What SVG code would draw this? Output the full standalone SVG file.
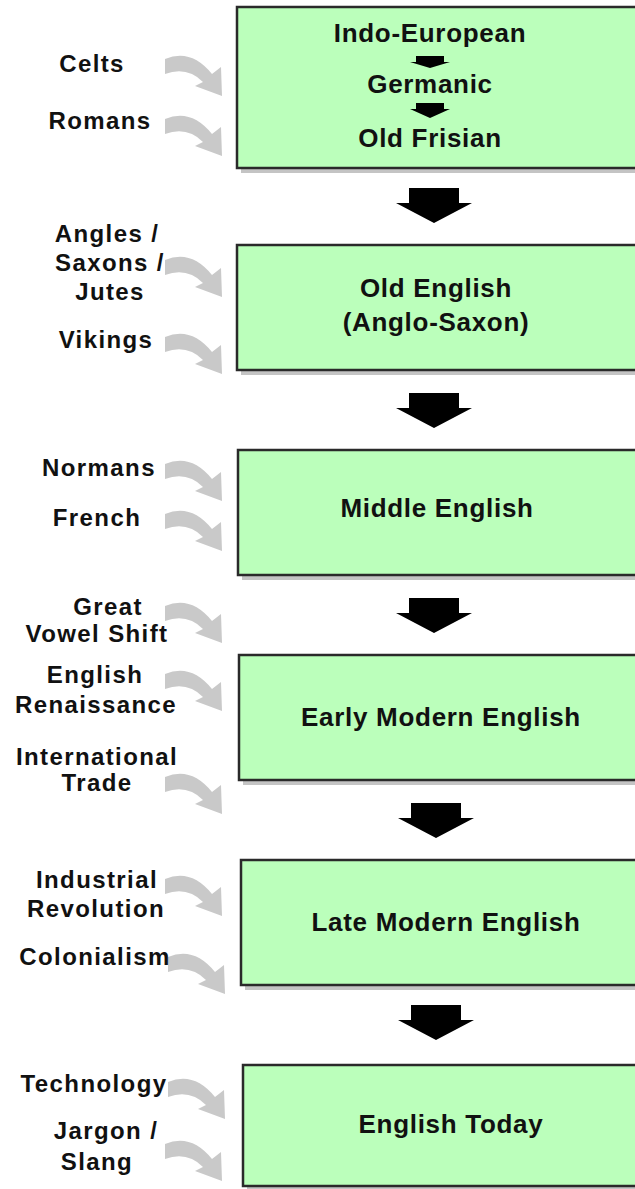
<svg xmlns="http://www.w3.org/2000/svg" xmlns:xlink="http://www.w3.org/1999/xlink" width="635" height="1189" viewBox="0 0 635 1189">
<style>
text{font-family:"Liberation Sans",Arial,sans-serif;font-weight:bold;fill:#111;}
.lbl{font-size:24px;text-anchor:middle;letter-spacing:1.4px;}
.box{fill:#bbffbb;stroke:#2a2a2a;stroke-width:2.5;}
.shadow{fill:#c4c4c4;}
.bt{font-size:26px;text-anchor:middle;letter-spacing:0.7px;}
.big{fill:#000;}
.curv{fill:#c9c9c9;}
</style>
<defs>
<path id="ca" class="curv" d="M0,4 Q26,-7 47,19 L56,12 L57,41 L30,31 L38,27 Q22,11 0,19 Z"/>
</defs>
<g id="influences">
<use xlink:href="#ca" x="165" y="55"/>
<use xlink:href="#ca" x="165" y="115"/>
<use xlink:href="#ca" x="165" y="256"/>
<use xlink:href="#ca" x="165" y="333"/>
<use xlink:href="#ca" x="165" y="460"/>
<use xlink:href="#ca" x="165" y="510"/>
<use xlink:href="#ca" x="165" y="602"/>
<use xlink:href="#ca" x="165" y="670"/>
<use xlink:href="#ca" x="165" y="773"/>
<use xlink:href="#ca" x="165" y="875"/>
<use xlink:href="#ca" x="168" y="953"/>
<use xlink:href="#ca" x="168" y="1078"/>
<use xlink:href="#ca" x="165" y="1140"/>
</g>
<g id="connectors">
<polygon class="big" points="409,188 459,188 459,203 472,203 434,223 396,203 409,203"/>
<polygon class="big" points="409,393 459,393 459,408 472,408 434,428 396,408 409,408"/>
<polygon class="big" points="409,598 459,598 459,613 472,613 434,633 396,613 409,613"/>
<polygon class="big" points="411,803 461,803 461,818 474,818 436,838 398,818 411,818"/>
<polygon class="big" points="411,1005 461,1005 461,1020 474,1020 436,1040 398,1020 411,1020"/>
</g>
<g id="n1">
<rect class="shadow" x="241" y="12" width="420" height="161"/>
<rect class="box" x="237" y="7" width="420" height="161"/>
<text class="bt" x="430" y="42">Indo-European</text>
<polygon class="big" points="416,56 444,56 444,62 450,62 430,68 410,62 416,62"/>
<text class="bt" x="430" y="93">Germanic</text>
<polygon class="big" points="416,103 444,103 444,109 450,109 430,118 410,109 416,109"/>
<text class="bt" x="430" y="147">Old Frisian</text>
</g>
<g id="n2">
<rect class="shadow" x="241" y="250" width="420" height="125"/>
<rect class="box" x="237" y="245" width="420" height="125"/>
<text class="bt" x="436" y="297">Old English</text>
<text class="bt" x="436" y="331">(Anglo-Saxon)</text>
</g>
<g id="n3">
<rect class="shadow" x="242" y="455" width="420" height="125"/>
<rect class="box" x="238" y="450" width="420" height="125"/>
<text class="bt" x="437" y="517">Middle English</text>
</g>
<g id="n4">
<rect class="shadow" x="243" y="660" width="420" height="125"/>
<rect class="box" x="239" y="655" width="420" height="125"/>
<text class="bt" x="441" y="726">Early Modern English</text>
</g>
<g id="n5">
<rect class="shadow" x="245" y="865" width="420" height="125"/>
<rect class="box" x="241" y="860" width="420" height="125"/>
<text class="bt" x="446" y="931">Late Modern English</text>
</g>
<g id="n6">
<rect class="shadow" x="247" y="1070" width="420" height="121"/>
<rect class="box" x="243" y="1065" width="420" height="121"/>
<text class="bt" x="451" y="1133">English Today</text>
</g>
<g id="labels">
<text class="lbl" x="92" y="72">Celts</text>
<text class="lbl" x="100" y="129">Romans</text>
<text class="lbl" x="107" y="242">Angles /</text>
<text class="lbl" x="110" y="271">Saxons /</text>
<text class="lbl" x="110" y="300">Jutes</text>
<text class="lbl" x="106" y="348">Vikings</text>
<text class="lbl" x="99" y="476">Normans</text>
<text class="lbl" x="97" y="526">French</text>
<text class="lbl" x="108" y="615">Great</text>
<text class="lbl" x="97" y="642">Vowel Shift</text>
<text class="lbl" x="95" y="683">English</text>
<text class="lbl" x="96" y="713">Renaissance</text>
<text class="lbl" x="97" y="765">International</text>
<text class="lbl" x="97" y="791">Trade</text>
<text class="lbl" x="97" y="888">Industrial</text>
<text class="lbl" x="96" y="917">Revolution</text>
<text class="lbl" x="95" y="965">Colonialism</text>
<text class="lbl" x="94" y="1092">Technology</text>
<text class="lbl" x="106" y="1139">Jargon /</text>
<text class="lbl" x="97" y="1170">Slang</text>
</g>
</svg>
